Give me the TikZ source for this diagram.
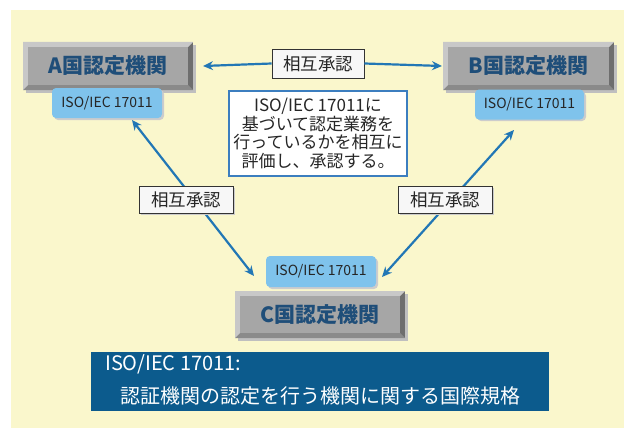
\documentclass[tikz,border=0pt]{standalone}
\usepackage{fontspec}
\setmainfont{Noto Sans CJK JP}
\usetikzlibrary{arrows.meta}
\definecolor{bgyellow}{HTML}{FAF7CC}
\definecolor{boxgray}{HTML}{A6A6A6}
\definecolor{bvlight}{HTML}{C8C8C8}
\definecolor{bvdark}{HTML}{6E6E6E}
\definecolor{bvmid}{HTML}{8A8A8A}
\definecolor{navytext}{HTML}{1F4E79}
\definecolor{tagblue}{HTML}{7FC3EC}
\definecolor{arrowblue}{HTML}{2277B5}
\definecolor{framblue}{HTML}{3C7EBF}
\definecolor{bottomblue}{HTML}{0C5B8D}
\tikzset{
  tagbox/.style={fill=tagblue, rounded corners=4pt, minimum width=110pt, minimum height=30pt, inner sep=0pt, font=\fontsize{14}{16}\selectfont, text=black!85},
  labbox/.style={draw=black!80, fill=white!97!black, line width=0.9pt, minimum width=93pt, minimum height=28pt, inner sep=0pt, font=\fontsize{17.5}{19}\selectfont, text=black!85},
  orgtext/.style={font=\fontsize{21}{24}\bfseries\selectfont, text=navytext, inner sep=0pt},
  conn/.style={draw=arrowblue, line width=2.2pt, -{Stealth[length=10pt,width=9pt]}},
  conn2/.style={draw=arrowblue, line width=2.2pt, {Stealth[length=10pt,width=9pt]}-{Stealth[length=10pt,width=9pt]}},
}
\newcommand\bevbox[6]{%
  \fill[black!25] ({#1+3},{#2+3}) rectangle ({#3+3},{#4+3});
  \fill[bvdark] (#1,#2) rectangle (#3,#4);
  \fill[bvmid] (#1,#4) -- ({#1+5},{#4-5}) -- ({#3-5},{#4-5}) -- (#3,#4) -- cycle;
  \fill[bvlight] (#1,#2) -- (#3,#2) -- ({#3-5},{#2+5}) -- ({#1+5},{#2+5}) -- ({#1+5},{#4-5}) -- (#1,#4) -- cycle;
  \fill[boxgray] ({#1+5},{#2+5}) rectangle ({#3-5},{#4-5});
  \node[orgtext] (#5) at ({(#1+#3)/2},{(#2+#4)/2}) {#6};
}
\begin{document}
\begin{tikzpicture}[x=1pt,y=-1pt]
\useasboundingbox (0,0) rectangle (626,428);
\fill[white] (0,0) rectangle (626,428);
\fill[bgyellow] (11,10) rectangle (624,428);

% organisation boxes
\bevbox{23}{42}{193}{90}{A}{A国認定機関}
\bevbox{443}{42}{614}{90}{B}{B国認定機関}
\bevbox{235}{291}{405}{338}{C}{C国認定機関}

% ISO tags
\fill[black!20,rounded corners=4pt] (54,90) rectangle (164,120);
\node[tagbox] (tA) at (107,103) {ISO/IEC 17011};
\fill[black!20,rounded corners=4pt] (477,92) rectangle (586,121);
\node[tagbox, minimum width=109pt] (tB) at (529.5,104.5) {ISO/IEC 17011};
\fill[black!20,rounded corners=4pt] (268,258) rectangle (378,289);
\node[tagbox, minimum height=31pt] (tC) at (321,271.5) {ISO/IEC 17011};

% top connectors
\node[labbox, minimum width=92pt, minimum height=29pt] (m1) at (318,63.5) {相互承認};
\draw[conn] (m1.west) -- (A.east -| 203,0);
\draw[conn] (m1.east) -- (B.west -| 442,0);

% diagonal connectors
\coordinate (a1) at (132,120);
\coordinate (c1) at (254,276);
\coordinate (b1) at (514,130);
\coordinate (c2) at (382,277);
\draw[conn2] (a1) -- (c1);
\draw[conn2] (b1) -- (c2);
\fill[black!20] (141,188) rectangle (235,215);
\node[labbox, minimum width=94pt, minimum height=27pt] (m2) at (186,199.5) {相互承認};
\fill[black!20] (400,188) rectangle (494,215);
\node[labbox, minimum width=94pt, minimum height=27pt] (m3) at (445,199.5) {相互承認};

% centre note
\node[draw=framblue, fill=white, line width=1.3pt, minimum width=178pt, minimum height=85pt, inner sep=0pt,
      align=center, font=\fontsize{17}{18.5}\selectfont, text=black!85] (note) at (318,133.5)
  {ISO/IEC 17011に\\基づいて認定業務を\\行っているかを相互に\\評価し、承認する。};

% bottom definition
\node[fill=bottomblue, minimum width=458pt, minimum height=59pt, inner sep=0pt] (def) at (320,381.5) {};
\node[anchor=west, inner sep=0pt, text=white, font=\fontsize{20}{22}\selectfont] (d1) at (105,364) {ISO/IEC 17011:};
\node[anchor=west, inner sep=0pt, text=white, font=\fontsize{20}{22}\selectfont] (d2) at (120,396) {認証機関の認定を行う機関に関する国際規格};
\end{tikzpicture}
\end{document}
